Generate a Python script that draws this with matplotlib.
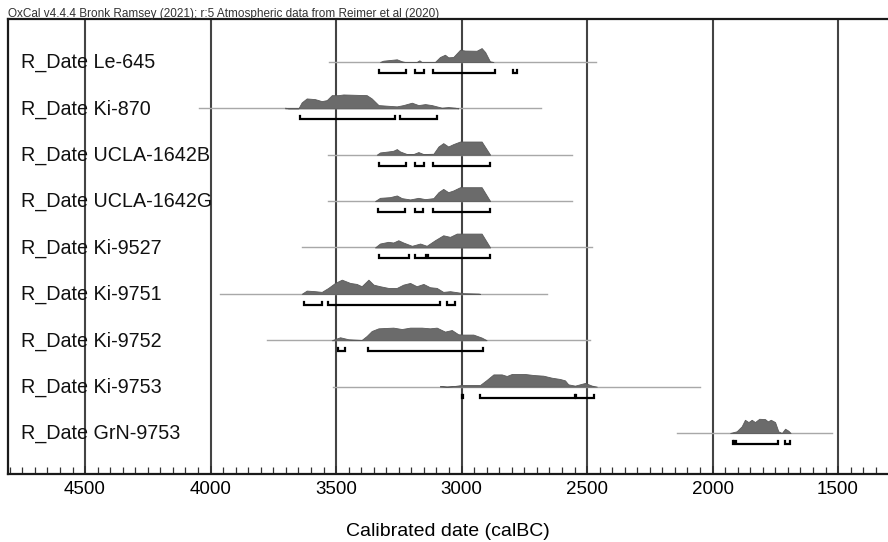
import matplotlib
matplotlib.use("Agg")
import matplotlib.pyplot as plt
import matplotlib.transforms as mtransforms
from matplotlib.ticker import MultipleLocator

plt.rcParams['font.family'] = ['Liberation Sans', 'DejaVu Sans']

title = "OxCal v4.4.4 Bronk Ramsey (2021); r:5 Atmospheric data from Reimer et al (2020)"
xlabel = "Calibrated date (calBC)"

labels = ["R_Date Le-645", "R_Date Ki-870", "R_Date UCLA-1642B", "R_Date UCLA-1642G",
          "R_Date Ki-9527", "R_Date Ki-9751", "R_Date Ki-9752", "R_Date Ki-9753",
          "R_Date GrN-9753"]

# full extent of each date's thin line (calBC)
line_start = [3529, 4046, 3531, 3531, 3637, 3962, 3776, 3511, 2143]
line_end = [2466, 2683, 2561, 2561, 2481, 2661, 2488, 2050, 1525]

# probability distributions: years (calBC) and relative probability
years_le645 = [3325, 3312, 3258, 3238, 3225, 3179, 3168, 3159, 3106, 3086, 3066, 3053,
               3033, 3006, 2986, 2940, 2920, 2906, 2887, 2873]
prob_le645 = [0, 1.3, 2.7, 0.7, 0, 0, 1.7, 0, 0, 5, 7.3, 4.7, 5, 12.3, 11.5, 11.3, 14,
              10, 0.7, 0]

years_ki870 = [3703, 3690, 3650, 3637, 3617, 3584, 3557, 3537, 3517, 3491, 3471, 3378,
               3358, 3331, 3298, 3258, 3232, 3198, 3172, 3145, 3119, 3079, 3053, 3026,
               3013]
prob_ki870 = [0.7, 0, 0, 6, 10, 9.3, 7.3, 8.3, 13.3, 13.3, 14, 13.3, 10, 3.3, 2.7, 2,
              3.3, 5.7, 3.3, 4.3, 3.3, 0.7, 1.3, 0.7, 0]

years_ucla1642b = [3338, 3325, 3292, 3272, 3258, 3245, 3218, 3192, 3172, 3152, 3112,
                   3092, 3073, 3053, 3033, 3006, 2920, 2886]
prob_ucla1642b = [0, 2.3, 3.3, 4, 5.7, 3.3, 0.7, 0.7, 2.7, 0.7, 1, 8.3, 11.7, 8.3,
                  10.7, 13.3, 13.3, 0]

years_ucla1642g = [3345, 3325, 3285, 3258, 3238, 3205, 3172, 3145, 3112, 3092, 3073,
                   3053, 3033, 3006, 2920, 2886]
prob_ucla1642g = [0, 3.3, 4, 5.7, 3, 1.7, 3.3, 2, 3, 9, 12.3, 9, 10.7, 14, 14, 0]

years_ki9527 = [3345, 3325, 3292, 3272, 3252, 3232, 3198, 3165, 3139, 3106, 3073, 3046,
                3019, 2920, 2886]
prob_ki9527 = [0, 4, 5.7, 5, 7.3, 5, 1.7, 4, 1.7, 7.3, 12.3, 10.7, 14, 14, 0]

years_ki9751 = [3637, 3617, 3584, 3557, 3531, 3504, 3477, 3444, 3418, 3398, 3371, 3351,
                3325, 3292, 3258, 3232, 3205, 3179, 3152, 3126, 3099, 3073, 3046, 3019,
                2993, 2933, 2926]
prob_ki9751 = [0, 3.3, 2.7, 2, 6, 11, 14.3, 11, 10, 7.7, 14.3, 9.3, 7.7, 6, 6, 9.3, 11,
               7.7, 10, 6.7, 6, 2, 2.7, 1.7, 0.7, 0.3, 0]

years_ki9752 = [3517, 3484, 3451, 3398, 3378, 3358, 3331, 3272, 3238, 3205, 3159, 3126,
                3099, 3066, 3039, 3013, 2993, 2953, 2920, 2900]
prob_ki9752 = [0, 3, 1, 0.3, 4.3, 9.3, 12, 12.7, 11.3, 12.7, 12.7, 12, 12.7, 8.7, 10.3,
               6, 5.7, 5.7, 2.7, 0]

years_ki9753 = [3086, 3059, 3026, 2999, 2926, 2900, 2873, 2840, 2820, 2800, 2747, 2714,
                2674, 2641, 2608, 2588, 2575, 2548, 2508, 2481, 2461]
prob_ki9753 = [0.7, 0, 0.7, 1.7, 1.7, 6.7, 12.3, 12.3, 10.7, 12.7, 12.7, 11.7, 11, 9,
               7.7, 6.3, 2.3, 1, 3.7, 1, 0]

years_grn9753 = [1930, 1904, 1884, 1871, 1857, 1844, 1831, 1814, 1791, 1780, 1768, 1751,
                 1738, 1724, 1711, 1698, 1689]
prob_grn9753 = [0, 1.7, 6.7, 13.3, 11, 13.3, 11, 14.3, 14, 11.7, 13.3, 11, 1.7, 0, 4.3,
                2.3, 0]

dist_years = [years_le645, years_ki870, years_ucla1642b, years_ucla1642g, years_ki9527,
              years_ki9751, years_ki9752, years_ki9753, years_grn9753]
dist_probs = [prob_le645, prob_ki870, prob_ucla1642b, prob_ucla1642g, prob_ki9527,
              prob_ki9751, prob_ki9752, prob_ki9753, prob_grn9753]

# 95.4% highest posterior density ranges (calBC)
ranges = [
    [(3330, 3222), (3186, 3150), (3115, 2868), (2796, 2780)],
    [(3643, 3265), (3245, 3099)],
    [(3327, 3221), (3185, 3150), (3112, 2887)],
    [(3331, 3224), (3185, 3152), (3112, 2887)],
    [(3328, 3211), (3186, 3141), (3135, 2887)],
    [(3628, 3557), (3531, 3086), (3059, 3026)],
    [(3491, 3464), (3371, 2913)],
    [(2999, 2993), (2926, 2550), (2546, 2471)],
    [(1920, 1913), (1906, 1738), (1711, 1691)],
]

major_ticks = [4500, 4000, 3500, 3000, 2500, 2000, 1500]

W, H = 888, 542
fig = plt.figure(figsize=(W / 100, H / 100), dpi=100)
ax = fig.add_axes([8 / W, 1 - 474 / H, 880 / W, 455 / H])

ax.set_xlim(4807, 1301)
ax.set_ylim(8.884, -0.927)

px = 46.375  # pixels per row unit
hscale = 0.30 / 14.0

for gx in major_ticks:
    ax.axvline(gx, color='#444444', lw=1.5, zorder=1)

for i in range(len(labels)):
    ax.plot([line_start[i], line_end[i]], [i, i], color='#a8a8a8', lw=1.0, zorder=2)
    yrs = dist_years[i]
    top = [i - p * hscale for p in dist_probs[i]]
    ax.fill_between(yrs, [i] * len(yrs), top, color='#6b6b6b', lw=0.6,
                    edgecolor='#5a5a5a', zorder=3)
    yb = i + 11 / px
    t = 3 / px
    for a, b in ranges[i]:
        ax.plot([a, a, b, b], [yb - t, yb, yb, yb - t], color='black', lw=1.6,
                solid_joinstyle='miter', zorder=4)
    trans = mtransforms.blended_transform_factory(ax.transAxes, ax.transData)
    ax.text(13 / 880, i + 6 / px, labels[i], transform=trans, fontsize=14.2,
            va='baseline', ha='left', color='#111111', zorder=5)

ax.set_yticks([])
ax.set_xticks(major_ticks)
ax.set_xticklabels([str(t) for t in major_ticks])
ax.xaxis.set_minor_locator(MultipleLocator(50))
ax.tick_params(axis='x', which='major', direction='in', length=6, width=1.4,
               labelsize=13.5, pad=5, color='#333333')
ax.tick_params(axis='x', which='minor', direction='in', length=5, width=0.9,
               color='#333333')
ax.set_xlabel(xlabel, fontsize=14, labelpad=18)

for side in ['left', 'top', 'bottom']:
    ax.spines[side].set_linewidth(1.6)
    ax.spines[side].set_color('#1a1a1a')
ax.spines['right'].set_visible(False)

fig.text(8 / W, 1 - 17 / H, title, fontsize=8.5, ha='left', va='baseline',
         color='#333333')

fig.savefig("out.png", dpi=100)
